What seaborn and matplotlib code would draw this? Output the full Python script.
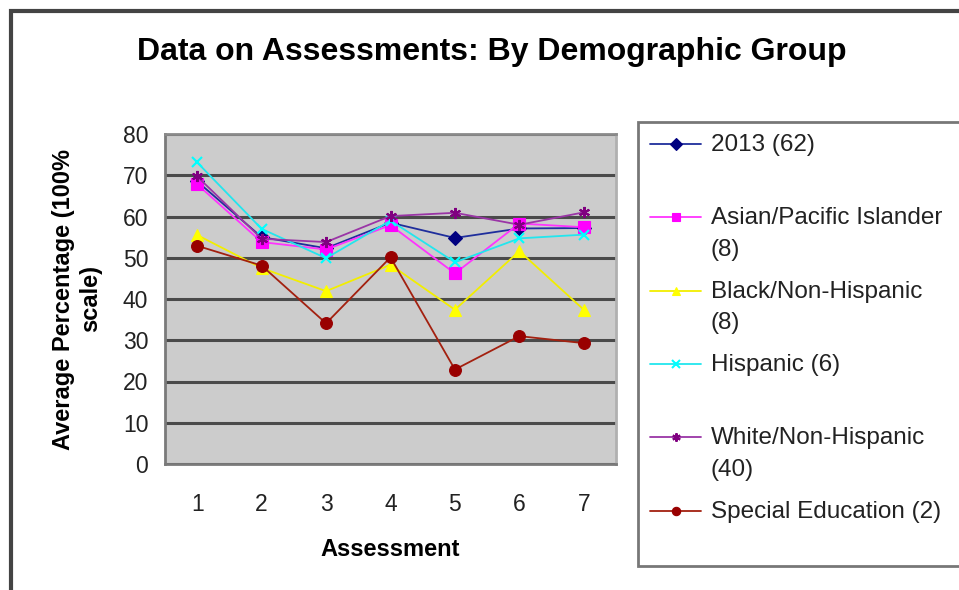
import matplotlib
matplotlib.use('Agg')
import matplotlib.pyplot as plt
import pandas as pd
import seaborn as sns
from matplotlib.patches import Rectangle
from matplotlib.ticker import FixedLocator

ASSESSMENTS = [1, 2, 3, 4, 5, 6, 7]

ALL_2013 = [68.5, 55.0, 52.3, 58.5, 54.8, 57.1, 57.2]
ASIAN = [67.8, 53.8, 52.0, 57.9, 46.2, 58.3, 57.4]
BLACK = [55.5, 47.5, 41.9, 48.3, 37.4, 51.6, 37.4]
HISPANIC = [73.1, 57.0, 49.9, 59.0, 48.9, 54.7, 55.6]
WHITE = [69.7, 54.6, 53.8, 60.1, 60.9, 58.0, 61.0]
SPECIAL_ED = [52.9, 48.1, 34.1, 50.1, 22.9, 31.0, 29.3]

LABELS = ['2013 (62)\n ', 'Asian/Pacific Islander\n(8)', 'Black/Non-Hispanic\n(8)',
          'Hispanic (6)\n ', 'White/Non-Hispanic\n(40)', 'Special Education (2)\n ']
SERIES = [ALL_2013, ASIAN, BLACK, HISPANIC, WHITE, SPECIAL_ED]
COLORS = ['#1f2e9c', '#ff33ff', '#f2ee00', '#22e6ee', '#9a35a6', '#a3200f']
MARKER_COLORS = ['#000080', '#ff00ff', '#ffff00', '#00ffff', '#800080', '#990000']
MARKERS = ['D', 's', '^', 'x', (6, 2, 0), 'o']
MARKER_SIZES = [7, 8, 9, 7, 8, 8.5]

sns.set_style('white')
plt.rcParams['font.family'] = ['Liberation Sans', 'DejaVu Sans']

fig = plt.figure(figsize=(9.59, 5.9), dpi=100)
ax = fig.add_axes([165 / 959, 126 / 590, 451 / 959, 330 / 590])
ax.set_facecolor('#cccccc')

for values, label, color, mcolor, marker, ms in zip(SERIES, LABELS, COLORS, MARKER_COLORS,
                                                   MARKERS, MARKER_SIZES):
    df = pd.DataFrame({'Assessment': ASSESSMENTS, 'score': values})
    line_art = marker in ('x', (6, 2, 0))
    sns.lineplot(data=df, x='Assessment', y='score', ax=ax, color=color, marker=marker,
                 markersize=ms, markerfacecolor=mcolor, markeredgecolor=mcolor,
                 markeredgewidth=1.5 if line_art else 0.8, linewidth=1.3, label=label)

ax.set_xlim(0.5, 7.5)
ax.set_ylim(0, 80)
ax.set_yticks(range(0, 81, 10))
ax.set_xticks(ASSESSMENTS)
ax.xaxis.set_minor_locator(FixedLocator([x + 0.5 for x in range(0, 8)]))
ax.tick_params(axis='x', which='major', length=0, pad=21, labelsize=16.5, labelcolor='#222222')
ax.tick_params(axis='x', which='minor', length=5, width=1.5, color='#777777', direction='out')
ax.tick_params(axis='y', length=5, width=1.5, color='#777777', direction='out', pad=7,
               labelsize=16.5, labelcolor='#222222')

ax.yaxis.grid(True, color='#4a4a4a', linewidth=2.2)
ax.xaxis.grid(False)
ax.set_axisbelow(True)
for side in ['left', 'bottom']:
    ax.spines[side].set_color('#7a7a7a')
    ax.spines[side].set_linewidth(2)
ax.spines['top'].set_color('#8a8a8a')
ax.spines['top'].set_linewidth(2)
ax.spines['right'].set_color('#b0b0b0')
ax.spines['right'].set_linewidth(2)

ax.set_xlabel('Assessment', fontsize=17, fontweight='bold', labelpad=16, color='black')
ax.set_ylabel('Average Percentage (100%\nscale)', fontsize=17, fontweight='bold', labelpad=15,
              color='black')
fig.suptitle('Data on Assessments: By Demographic Group', x=492 / 959, y=1 - 52 / 590,
             va='center', fontsize=23, fontweight='bold', color='black')

handles, labels = ax.get_legend_handles_labels()
ax.get_legend().remove()
leg = fig.legend(handles, labels, loc='upper left',
                 bbox_to_anchor=(638 / 959, 1 - 563 / 590, 0.5, 441 / 590), mode='expand',
                 fontsize=17.5, frameon=True, fancybox=False, borderaxespad=0,
                 handlelength=2.1, handletextpad=0.4, handleheight=1.1,
                 labelspacing=0.82, borderpad=0.5)
leg.get_frame().set_edgecolor('#555555')
leg.get_frame().set_linewidth(2)
for text in leg.get_texts():
    text.set_linespacing(1.55)
    text.set_color('#222222')
for line in leg.get_lines():
    line.set_markersize(6)
for column in leg._legend_handle_box.get_children():
    for item in column.get_children():
        item.align = 'top'

# outer chart border
fig.patches.append(Rectangle((11 / 959, -0.1), 1.2, 1.1 - 11 / 590, transform=fig.transFigure,
                             fill=False, edgecolor='#444444', linewidth=3))

fig.savefig('out.png', dpi=100)
